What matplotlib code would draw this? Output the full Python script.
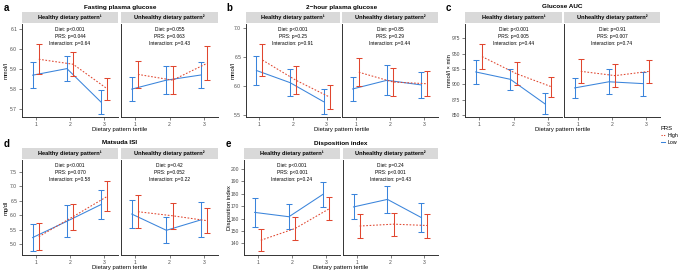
import matplotlib
matplotlib.use("Agg")
import matplotlib.pyplot as plt
from matplotlib.lines import Line2D

plt.rcParams['font.family'] = ['Liberation Sans', 'DejaVu Sans']

# values: healthy tertile 1-3, then unhealthy tertile 1-3
tertiles = [1, 2, 3]

fpg_low_mean = [5.870, 5.903, 5.734, 5.800, 5.845, 5.871]
fpg_low_err = [0.065, 0.063, 0.060, 0.059, 0.069, 0.067]
fpg_high_mean = [5.950, 5.925, 5.801, 5.874, 5.845, 5.930]
fpg_high_err = [0.075, 0.060, 0.056, 0.069, 0.069, 0.085]

ogtt_low_mean = [6.27, 6.06, 5.73, 5.95, 6.10, 6.02]
ogtt_low_err = [0.25, 0.23, 0.22, 0.21, 0.26, 0.23]
ogtt_high_mean = [6.45, 6.10, 5.81, 6.24, 6.07, 6.04]
ogtt_high_err = [0.27, 0.24, 0.20, 0.24, 0.24, 0.22]

auc_low_mean = [920, 908, 868, 894, 904, 901]
auc_low_err = [19.5, 17.5, 17, 16, 20, 19.5]
auc_high_mean = [945, 917, 896, 921, 914, 921]
auc_high_err = [20.5, 19, 16, 19.5, 19, 19]

isi_low_mean = [5.23, 5.79, 6.37, 6.04, 5.48, 5.84]
isi_low_err = [0.47, 0.55, 0.50, 0.47, 0.45, 0.60]
isi_high_mean = [5.26, 5.95, 6.65, 6.12, 5.98, 5.81]
isi_high_err = [0.46, 0.45, 0.51, 0.56, 0.45, 0.43]

di_low_mean = [165, 161.5, 179.7, 169.4, 175.5, 160.8]
di_low_err = [11.7, 10.1, 10.2, 10.1, 11, 11.5]
di_high_mean = [142.5, 152, 168, 154, 155.5, 154.4]
di_high_err = [8.8, 8.9, 9.4, 9.3, 9.4, 9.7]

fpg_stats = [["Diet: p<0.001", "PRS: p=0.044", "Interaction: p=0.64"],
             ["Diet: p=0.055", "PRS: p=0.063", "Interaction: p=0.43"]]
ogtt_stats = [["Diet: p<0.001", "PRS: p=0.25", "Interaction: p=0.91"],
              ["Diet: p=0.85", "PRS: p=0.29", "Interaction: p=0.44"]]
auc_stats = [["Diet: p<0.001", "PRS: p=0.005", "Interaction: p=0.44"],
             ["Diet: p=0.91", "PRS: p=0.007", "Interaction: p=0.74"]]
isi_stats = [["Diet: p<0.001", "PRS: p=0.070", "Interaction: p=0.58"],
             ["Diet: p=0.42", "PRS: p=0.052", "Interaction: p=0.22"]]
di_stats = [["Diet: p<0.001", "PRS: p<0.001", "Interaction: p=0.24"],
            ["Diet: p=0.24", "PRS: p<0.001", "Interaction: p=0.43"]]

strip_labels = ["Healthy dietary pattern\u00b9", "Unhealthy dietary pattern\u00b2"]

RED = "#E0462F"
BLUE = "#3A84DB"
W, H = 685, 274

fig = plt.figure(figsize=(W / 100, H / 100), dpi=100)


def px_axes(x0, x1, y0, y1):
    return fig.add_axes([x0 / W, 1 - y1 / H, (x1 - x0) / W, (y1 - y0) / H])


def panel(letter, title, ylabel, ylab_x, facets, top, bottom, ylim, yticks, yfmt,
          low_mean, low_err, high_mean, high_err, stats):
    x_left = facets[0][0]
    x_right = facets[1][1]
    fig.text(letter[1] / W, 1 - (top - 16) / H, letter[0], fontsize=7, fontweight='bold',
             ha='left', va='center')
    fig.text((x_left + x_right) / 2 / W, 1 - (top - 17) / H, title, fontsize=4.6,
             fontweight='bold', ha='center', va='center')
    fig.text(ylab_x / W, 1 - (top + bottom) / 2 / H, ylabel, fontsize=4.2,
             rotation=90, ha='center', va='center')
    fig.text((x_left + x_right) / 2 / W, 1 - (bottom + 13) / H, "Dietary pattern tertile",
             fontsize=4.2, ha='center', va='center')
    for k, (x0, x1) in enumerate(facets):
        # strip
        sax = px_axes(x0, x1, top - 12, top - 1)
        sax.set_facecolor("#D9D9D9")
        sax.set_xticks([])
        sax.set_yticks([])
        for s in sax.spines.values():
            s.set_visible(False)
        sax.text(0.5, 0.5, strip_labels[k], fontsize=4.1, fontweight='bold',
                 ha='center', va='center', transform=sax.transAxes)

        ax = px_axes(x0, x1, top, bottom)
        sl = slice(3 * k, 3 * k + 3)
        xl = [t - 0.09 for t in tertiles]
        xh = [t + 0.09 for t in tertiles]
        ax.plot(xl, low_mean[sl], color=BLUE, lw=0.75)
        ax.errorbar(xl, low_mean[sl], yerr=low_err[sl], fmt='none', ecolor=BLUE,
                    elinewidth=0.75, capsize=2.2, capthick=0.75)
        ax.plot(xh, high_mean[sl], color=RED, lw=0.75, ls=(0, (1.6, 1.6)))
        ax.errorbar(xh, high_mean[sl], yerr=high_err[sl], fmt='none', ecolor=RED,
                    elinewidth=0.75, capsize=2.2, capthick=0.75)
        for j, line in enumerate(stats[k]):
            ax.text(2, 0.943 - j * 0.074, line, fontsize=3.5, ha='center', va='center',
                    transform=ax.get_xaxis_transform())
        ax.set_xlim(0.6, 3.4)
        ax.set_ylim(*ylim)
        ax.set_xticks(tertiles)
        ax.set_yticks(yticks)
        ax.set_yticklabels([yfmt.format(v) for v in yticks])
        ax.tick_params(labelsize=3.6, length=2, width=0.5, pad=1.5,
                       colors="#4D4D4D", labelcolor="#4D4D4D")
        if k == 1:
            ax.tick_params(axis='y', left=False, labelleft=False)
        for s in ['top', 'right']:
            ax.spines[s].set_visible(False)
        for s in ['left', 'bottom']:
            ax.spines[s].set_linewidth(0.7)
            ax.spines[s].set_color("#333333")


panel(("a", 4), "Fasting plasma glucose", "mmol/l", 6,
      [(22, 118), (121, 218)], 24, 117, (5.66, 6.127),
      [5.7, 5.8, 5.9, 6.0, 6.1], "{:.1f}",
      fpg_low_mean, fpg_low_err, fpg_high_mean, fpg_high_err, fpg_stats)
panel(("b", 226), "2\u2212hour plasma glucose", "mmol/l", 233,
      [(246, 340), (342, 438)], 24, 117, (5.465, 7.074),
      [5.5, 6.0, 6.5, 7.0], "{:.1f}",
      ogtt_low_mean, ogtt_low_err, ogtt_high_mean, ogtt_high_err, ogtt_stats)
panel(("c", 446), "Glucose AUC", "mmol/l \u00d7 min", 449,
      [(465, 562), (564, 660)], 24, 117, (846.7, 998),
      [850, 875, 900, 925, 950, 975], "{:.0f}",
      auc_low_mean, auc_low_err, auc_high_mean, auc_high_err, auc_stats)
panel(("d", 4), "Matsuda ISI", "mg/dl", 6,
      [(22, 118), (121, 218)], 160, 255, (4.63, 7.90),
      [5.0, 5.5, 6.0, 6.5, 7.0, 7.5], "{:.1f}",
      isi_low_mean, isi_low_err, isi_high_mean, isi_high_err, isi_stats)
panel(("e", 226), "Disposition index", "Disposition index", 229,
      [(244, 340), (343, 438)], 160, 255, (130.6, 207.3),
      [140, 150, 160, 170, 180, 190, 200], "{:.0f}",
      di_low_mean, di_low_err, di_high_mean, di_high_err, di_stats)

handles = [Line2D([], [], color=RED, lw=0.75, ls=(0, (1.2, 1.2))),
           Line2D([], [], color=BLUE, lw=0.75)]
leg = fig.legend(handles, ["High", "Low"], title="PRS", loc='upper left',
                 bbox_to_anchor=(657 / W, 1 - 122 / H), frameon=False,
                 fontsize=3.8, title_fontsize=4.2, handlelength=0.9,
                 handletextpad=0.5, labelspacing=0.4, borderpad=0.2)
leg._legend_box.align = "left"

fig.savefig("out.png", dpi=100)
